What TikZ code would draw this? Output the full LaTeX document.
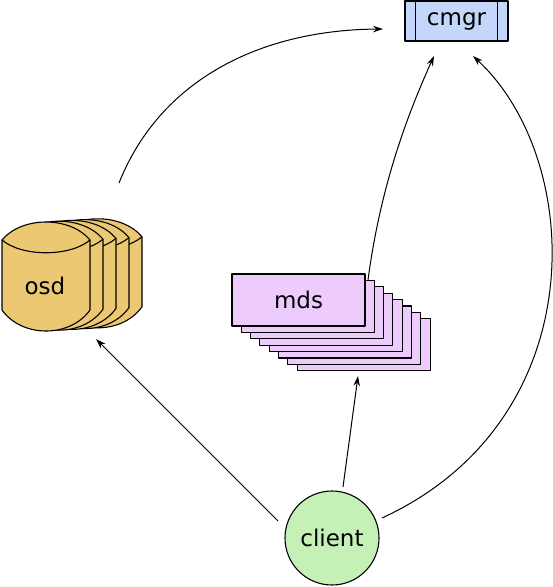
\documentclass[tikz,border=0pt]{standalone}
\usepackage{fontspec}
\setmainfont{DejaVu Sans}
\usetikzlibrary{arrows.meta}
\definecolor{cmgrfill}{HTML}{C4D7FA}
\definecolor{osdfill}{HTML}{ECC872}
\definecolor{mdsfill}{HTML}{EDCBFC}
\definecolor{clientfill}{HTML}{C6F1B6}
\tikzset{
  lbl/.style={font=\fontsize{23}{27}\selectfont, inner sep=0pt},
  conn/.style={line width=1pt, -{Stealth[length=10pt,width=6.5pt]}},
  shp/.style={draw=black, line width=1.1pt, line join=round},
}
\begin{document}
\begin{tikzpicture}[x=1pt,y=-1pt]
\useasboundingbox (0,0) rectangle (553,587);
% cmgr
\node[shp, fill=cmgrfill, minimum width=103pt, minimum height=40pt, inner sep=0pt] (cmgr) at (456.5,21) {};
\draw[shp] ([xshift=11pt]cmgr.north west) -- ([xshift=11pt]cmgr.south west);
\draw[shp] ([xshift=-11pt]cmgr.north east) -- ([xshift=-11pt]cmgr.south east);
\node[lbl] at (cmgr.center) {cmgr};
% osd stack
\foreach \i in {4,3,2,1,0}{
  \begin{scope}[shift={(13*\i,-0.8*\i)}]
  \path[shp, fill=osdfill] (2,240) .. controls (22,216) and (70,216) .. (90,240) -- (90,310)
     .. controls (70,338) and (22,338) .. (2,310) -- cycle;
  \draw[shp] (2,240) .. controls (22,257) and (70,257) .. (90,240);
  \end{scope}
}
\node[lbl] (osd) at (45,286) {osd};
% mds stack
\foreach \i in {7,6,5,4,3,2,1}{
  \path[shp, fill=mdsfill] (232+9.3*\i,274+6.4*\i) rectangle ++(133,52);
}
\node[shp, fill=mdsfill, minimum width=133pt, minimum height=52pt, inner sep=0pt] (mds) at (298.5,300) {};
\node[lbl] at (mds.center) {mds};
% client
\node[shp, fill=clientfill, circle, minimum size=94pt, inner sep=0pt] (client) at (332,538) {};
\node[lbl] at (client.center) {client};
% endpoints
\coordinate (o1) at (119,183);
\coordinate (c1) at (383,29);
\coordinate (m1) at (368,280);
\coordinate (c2) at (434,56);
\coordinate (k1) at (382,518);
\coordinate (c3) at (473,56);
\coordinate (k2) at (278,521);
\coordinate (o2) at (96,339);
\coordinate (k3) at (343,487);
\coordinate (m2) at (358,376);
\draw[conn] (o1) .. controls (160,80) and (260,30) .. (c1);
\draw[conn] (m1) .. controls (380,190) and (405,120) .. (c2);
\draw[conn] (k1) .. controls (595,420) and (585,160) .. (c3);
\draw[conn] (k2) -- (o2);
\draw[conn] (k3) -- (m2);
\end{tikzpicture}
\end{document}
